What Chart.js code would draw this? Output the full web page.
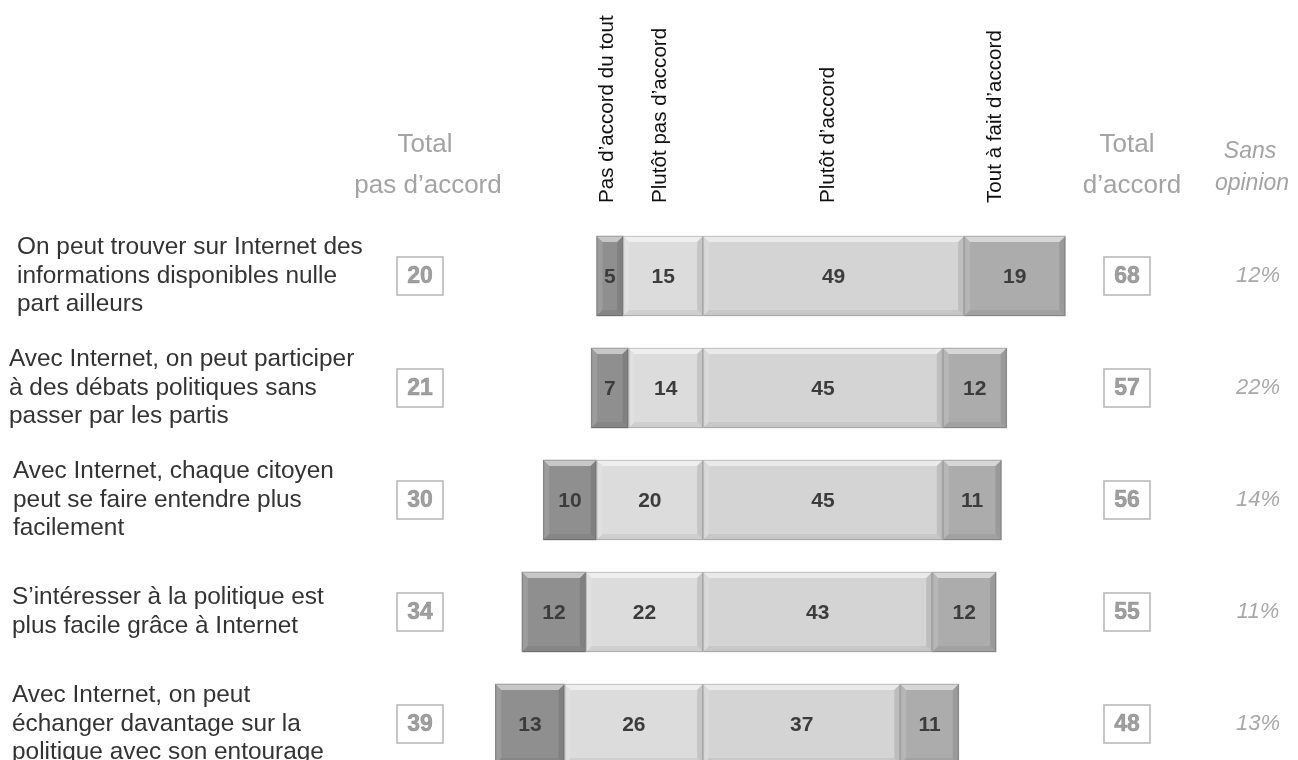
<!DOCTYPE html>
<html>
<head>
<meta charset="utf-8">
<script src="https://cdn.jsdelivr.net/npm/chart.js@4"></script>
<style>
  html, body { margin: 0; padding: 0; background: #ffffff; }
  #wrap { width: 1298px; height: 760px; position: relative; }
</style>
</head>
<body>
<div id="wrap"><canvas id="c"></canvas></div>
<script>
// ---- data ----
const categories = [
  ["On peut trouver sur Internet des", "informations disponibles nulle", "part ailleurs"],
  ["Avec Internet, on peut participer", "à des débats politiques sans", "passer par les partis"],
  ["Avec Internet, chaque citoyen", "peut se faire entendre plus", "facilement"],
  ["S’intéresser à la politique est", "plus facile grâce à Internet"],
  ["Avec Internet, on peut", "échanger davantage sur la", "politique avec son entourage"]
];
const seriesNames = ["Plutôt pas d’accord", "Pas d’accord du tout", "Plutôt d’accord", "Tout à fait d’accord"];
const plutotPasAccord = [15, 14, 20, 22, 26];
const pasAccordDuTout = [5, 7, 10, 12, 13];
const plutotAccord = [49, 45, 45, 43, 37];
const toutAFaitAccord = [19, 12, 11, 12, 11];
const totalPasAccord = [20, 21, 30, 34, 39];
const totalAccord = [68, 57, 56, 55, 48];
const sansOpinion = [12, 22, 14, 11, 13];
const columnHeaders = ["Pas d’accord du tout", "Plutôt pas d’accord", "Plutôt d’accord", "Tout à fait d’accord"];

// ---- styles / layout ----
const FONT = "'Liberation Sans', Arial, Helvetica, sans-serif";
const colors = ["#dcdcdc", "#8f8f8f", "#d4d4d4", "#acacac"];
const headerX = [607, 660, 828, 995];
const labelLeft = [17, 9, 13, 12, 12];

function drawBevel(ctx, l, r, t, b) {
  const s = 6;
  if (r - l < 2 * s) return;
  ctx.save();
  ctx.fillStyle = "rgba(255,255,255,0.5)";
  ctx.beginPath(); ctx.moveTo(l, t); ctx.lineTo(r, t); ctx.lineTo(r - s, t + s); ctx.lineTo(l + s, t + s); ctx.closePath(); ctx.fill();
  ctx.fillStyle = "rgba(255,255,255,0.12)";
  ctx.beginPath(); ctx.moveTo(l, t); ctx.lineTo(l + s, t + s); ctx.lineTo(l + s, b - s); ctx.lineTo(l, b); ctx.closePath(); ctx.fill();
  ctx.fillStyle = "rgba(0,0,0,0.10)";
  ctx.beginPath(); ctx.moveTo(r, t); ctx.lineTo(r, b); ctx.lineTo(r - s, b - s); ctx.lineTo(r - s, t + s); ctx.closePath(); ctx.fill();
  ctx.fillStyle = "rgba(0,0,0,0.06)";
  ctx.beginPath(); ctx.moveTo(l, b); ctx.lineTo(r, b); ctx.lineTo(r - s, b - s); ctx.lineTo(l + s, b - s); ctx.closePath(); ctx.fill();
  ctx.strokeStyle = "rgba(0,0,0,0.16)";
  ctx.lineWidth = 1;
  ctx.strokeRect(l + 0.5, t + 0.5, r - l - 1, b - t - 1);
  ctx.restore();
}

const overlay = {
  id: "overlay",
  afterDatasetsDraw(chart) {
    const ctx = chart.ctx;
    chart.data.datasets.forEach((ds, di) => {
      const meta = chart.getDatasetMeta(di);
      meta.data.forEach((el, i) => {
        const p = el.getProps(["x", "y", "base", "height"], true);
        const l = Math.min(p.x, p.base), r = Math.max(p.x, p.base);
        const t = p.y - p.height / 2, b = p.y + p.height / 2;
        drawBevel(ctx, l, r, t, b);
        ctx.save();
        ctx.fillStyle = "#3c3c3c";
        ctx.font = "bold 21px " + FONT;
        ctx.textAlign = "center";
        ctx.textBaseline = "middle";
        ctx.fillText(String(Math.abs(ds.data[i])), (l + r) / 2, p.y + 1);
        ctx.restore();
      });
    });
  },
  afterDraw(chart) {
    const ctx = chart.ctx;
    const yScale = chart.scales.y;
    ctx.save();
    ctx.fillStyle = "#111111";
    ctx.font = "20.6px " + FONT;
    ctx.textAlign = "left";
    ctx.textBaseline = "middle";
    columnHeaders.forEach((h, k) => {
      ctx.save();
      ctx.translate(headerX[k], 203);
      ctx.rotate(-Math.PI / 2);
      ctx.fillText(h, 0, 0);
      ctx.restore();
    });
    ctx.fillStyle = "#a3a3a3";
    ctx.font = "26px " + FONT;
    ctx.textAlign = "center";
    ctx.fillText("Total", 425, 145);
    ctx.fillText("pas d’accord", 428, 186);
    ctx.fillText("Total", 1127, 145);
    ctx.fillText("d’accord", 1132, 186);
    ctx.font = "italic 23px " + FONT;
    ctx.fillText("Sans", 1250, 152);
    ctx.fillText("opinion", 1252, 184);

    categories.forEach((lines, i) => {
      const yc = yScale.getPixelForValue(i);
      ctx.fillStyle = "#333333";
      ctx.font = "24.4px " + FONT;
      ctx.textAlign = "left";
      ctx.textBaseline = "middle";
      const lh = 28.5;
      const y0 = yc - (lines.length - 1) * lh / 2;
      lines.forEach((ln, j) => ctx.fillText(ln, labelLeft[i], y0 + j * lh));
      [[420, totalPasAccord[i]], [1127, totalAccord[i]]].forEach(([cx, v]) => {
        ctx.strokeStyle = "#b5b5b5";
        ctx.lineWidth = 1.5;
        ctx.strokeRect(cx - 23, yc - 19, 46, 38);
        ctx.font = "bold 23px " + FONT;
        ctx.textAlign = "center";
        ctx.fillStyle = "#a0a0a0";
        ctx.fillText(String(v), cx, yc + 1);
        ctx.strokeStyle = "rgba(110,110,110,0.6)";
        ctx.lineWidth = 0.6;
        ctx.strokeText(String(v), cx, yc + 1);
      });
      ctx.fillStyle = "#a8a8a8";
      ctx.font = "italic 22px " + FONT;
      ctx.textAlign = "center";
      ctx.fillText(sansOpinion[i] + "%", 1258, yc);
    });
    ctx.restore();
  }
};

const seriesData = [plutotPasAccord.map(v => -v), pasAccordDuTout.map(v => -v), plutotAccord, toutAFaitAccord];

new Chart(document.getElementById("c"), {
  type: "bar",
  data: {
    labels: categories,
    datasets: seriesNames.map((n, k) => ({
      label: n,
      data: seriesData[k],
      backgroundColor: colors[k],
      borderWidth: 0,
      barThickness: 80,
      clip: false
    }))
  },
  options: {
    indexAxis: "y",
    responsive: true,
    maintainAspectRatio: false,
    animation: false,
    devicePixelRatio: 1,
    layout: { padding: { left: 490, right: 222, top: 276, bottom: 36 } },
    plugins: { legend: { display: false }, tooltip: { enabled: false } },
    scales: {
      x: { stacked: true, min: -40, max: 70, display: false },
      y: { stacked: true, offset: false, display: false }
    }
  },
  plugins: [overlay]
});
</script>
</body>
</html>
